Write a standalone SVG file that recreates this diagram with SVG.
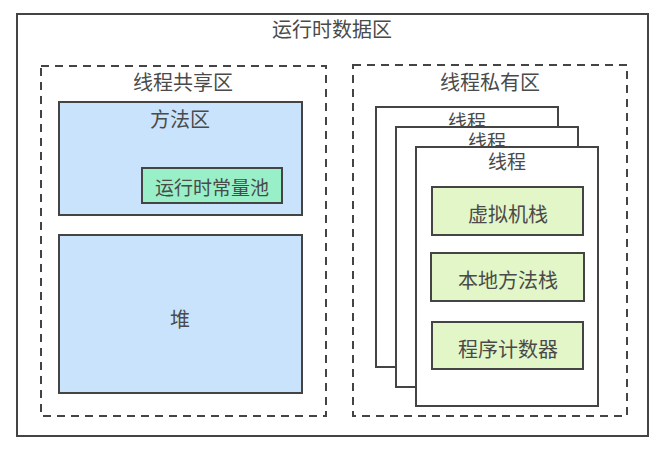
<svg xmlns="http://www.w3.org/2000/svg" width="671" height="449" viewBox="0 0 671 449">
<style>
text{font-family:"Noto Sans CJK SC","Liberation Sans",sans-serif;font-size:20px;fill:#4a4a4a;text-anchor:middle;dominant-baseline:central}
.solid{stroke:#444;stroke-width:2}
.dash{fill:none;stroke:#444;stroke-width:2;stroke-dasharray:8 6}
.blue{fill:#c9e3fc}
.pool{fill:#99f0c8}
.green{fill:#e2f6c8}
.white{fill:#fff}
</style>
<rect width="671" height="449" fill="#fff"/>
<g id="runtime-data-area">
<rect class="solid" x="17" y="14" width="631" height="422" fill="#fff" stroke="#555"/>
<text x="332" y="28">运行时数据区</text>
</g>
<g id="shared-area">
<rect class="dash" x="41" y="66" width="285" height="350"/>
<text x="183" y="81">线程共享区</text>
</g>
<g id="method-area">
<rect class="solid blue" x="59" y="102" width="243" height="113"/>
<text x="180" y="118">方法区</text>
</g>
<g id="constant-pool">
<rect class="solid pool" x="142" y="168" width="140" height="35"/>
<text x="212" y="186" style="font-size:19px">运行时常量池</text>
</g>
<g id="heap">
<rect class="solid blue" x="59" y="235" width="243" height="158"/>
<text x="180" y="318">堆</text>
</g>
<g id="private-area">
<rect class="dash" x="353" y="65" width="274" height="351"/>
<text x="490" y="81">线程私有区</text>
</g>
<g id="thread-1">
<rect class="solid white" x="376" y="107" width="182" height="260"/>
<text x="467" y="120" style="font-size:19px">线程</text>
</g>
<g id="thread-2">
<rect class="solid white" x="396" y="127" width="182" height="260"/>
<text x="487" y="140" style="font-size:19px">线程</text>
</g>
<g id="thread-3">
<rect class="solid white" x="416" y="147" width="182" height="259"/>
<text x="507" y="160" style="font-size:19px">线程</text>
</g>
<g id="vm-stack">
<rect class="solid green" x="432" y="187" width="151" height="48"/>
<text x="508" y="213">虚拟机栈</text>
</g>
<g id="native-stack">
<rect class="solid green" x="431" y="253" width="153" height="48"/>
<text x="508" y="279">本地方法栈</text>
</g>
<g id="pc-register">
<rect class="solid green" x="432" y="322" width="151" height="47"/>
<text x="508" y="348">程序计数器</text>
</g>
<g id="connectors"></g>
</svg>
